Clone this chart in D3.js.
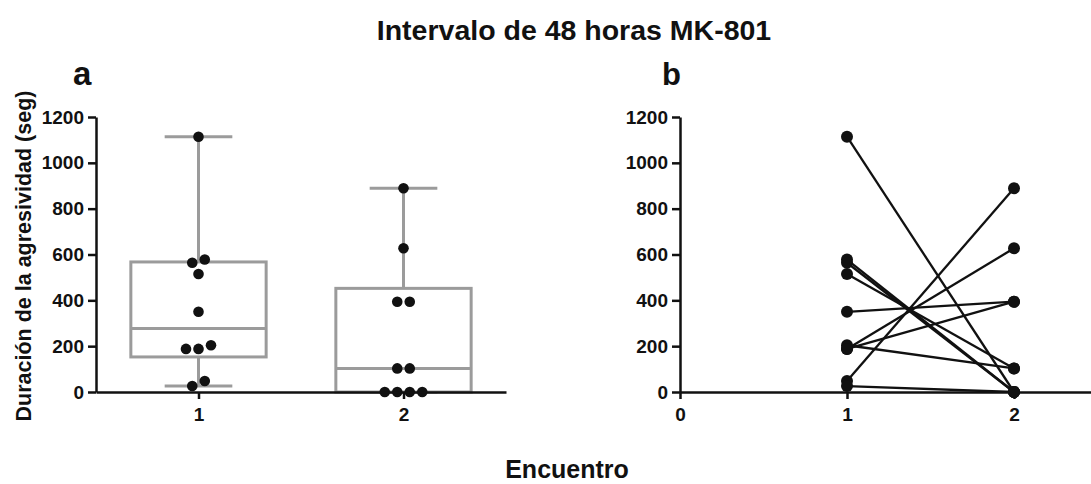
<!DOCTYPE html>
<html>
<head>
<meta charset="utf-8">
<script src="https://cdn.jsdelivr.net/npm/d3@7"></script>
<style>
  html, body { margin: 0; padding: 0; background: #fff; }
  svg { display: block; }
  text { font-family: "Liberation Sans", Arial, sans-serif; font-weight: bold; fill: #111; }
</style>
</head>
<body>
<svg id="chart" width="1091" height="484"></svg>
<script>
// Aggression duration (s) per animal, first and second encounter (paired by index)
const encounters = [1, 2];
const encounter1 = [1114, 578, 564, 515, 350, 204, 188, 188, 48, 26];
const encounter2 = [0, 0, 0, 103, 394, 103, 627, 394, 889, 0];
const yTicks = [0, 200, 400, 600, 800, 1000, 1200];
const title = "Intervalo de 48 horas MK-801";
const yLabel = "Duración de la agresividad (seg)";
const xLabel = "Encuentro";
const panelLabels = ["a", "b"];

const svg = d3.select("#chart");
const boxGray = "#9b9b9b";

// Quartile with the (n+1)p position rule
function quartile(sorted, p) {
  const n = sorted.length;
  const pos = (n + 1) * p;
  if (pos <= 1) return sorted[0];
  if (pos >= n) return sorted[n - 1];
  const lo = Math.floor(pos);
  const frac = pos - lo;
  return sorted[lo - 1] + frac * (sorted[lo] - sorted[lo - 1]);
}

const y = d3.scaleLinear().domain([0, 1200]).range([392, 117]);

function styleAxis(g) {
  g.selectAll("path.domain").attr("stroke", "#111").attr("stroke-width", 2.5);
  g.selectAll(".tick line").attr("stroke", "#111").attr("stroke-width", 2.5);
  g.selectAll(".tick text").style("font-size", "19px").style("font-weight", "bold")
    .style("font-family", '"Liberation Sans", Arial, sans-serif').attr("fill", "#111");
}

// ---------- Panel a: box plots with individual points ----------
const xa = d3.scaleLinear().domain([0.5, 2.5]).range([96, 506]);
const groups = [encounter1, encounter2];

const gA = svg.append("g");
groups.forEach((vals, i) => {
  const cat = encounters[i];
  const s = vals.slice().sort(d3.ascending);
  const q1 = quartile(s, 0.25), med = quartile(s, 0.5), q3 = quartile(s, 0.75);
  const lo = s[0], hi = s[s.length - 1];
  const cx = xa(cat);
  const halfBox = (xa(1.33) - xa(1));
  const halfCap = (xa(1.165) - xa(1));
  const g = gA.append("g").attr("stroke", boxGray).attr("stroke-width", 3).attr("fill", "none");
  // whiskers
  g.append("line").attr("x1", cx).attr("x2", cx).attr("y1", y(q3)).attr("y2", y(hi));
  g.append("line").attr("x1", cx).attr("x2", cx).attr("y1", y(q1)).attr("y2", y(lo));
  g.append("line").attr("x1", cx - halfCap).attr("x2", cx + halfCap).attr("y1", y(hi)).attr("y2", y(hi));
  g.append("line").attr("x1", cx - halfCap).attr("x2", cx + halfCap).attr("y1", y(lo)).attr("y2", y(lo));
  // box and median
  g.append("rect").attr("x", cx - halfBox).attr("y", y(q3))
    .attr("width", 2 * halfBox).attr("height", y(q1) - y(q3)).attr("fill", "#fff");
  g.append("line").attr("x1", cx - halfBox).attr("x2", cx + halfBox).attr("y1", y(med)).attr("y2", y(med));

  // scatter: points close in value are spread sideways in rows (lowest on the left)
  const rows = [];
  s.slice().reverse().forEach(v => {
    const last = rows[rows.length - 1];
    if (last && Math.abs(y(last[0]) - y(v)) < 7) last.push(v); else rows.push([v]);
  });
  const pts = [];
  rows.forEach(row => {
    row.slice().reverse().forEach((v, k) => pts.push({ v, dx: (k - (row.length - 1) / 2) * 12.5 }));
  });
  gA.append("g").selectAll("circle").data(pts).join("circle")
    .attr("cx", d => cx + d.dx).attr("cy", d => y(d.v)).attr("r", 5.3).attr("fill", "#111");
});

const axAy = gA.append("g").attr("transform", `translate(${xa(0.5)},0)`)
  .call(d3.axisLeft(y).tickValues(yTicks).tickSize(8).tickPadding(4).tickSizeOuter(0).tickFormat(d3.format("d")));
styleAxis(axAy);
const axAx = gA.append("g").attr("transform", `translate(0,${y(0)})`)
  .call(d3.axisBottom(xa).tickValues(encounters).tickSize(7).tickPadding(9).tickSizeOuter(0).tickFormat(d3.format("d")));
styleAxis(axAx);

// ---------- Panel b: paired lines between encounters ----------
const xb = d3.scaleLinear().domain([0, 2.5]).range([680, 1097.5]);
const gB = svg.append("g");
const pairs = encounter1.map((v, i) => [v, encounter2[i]]);
gB.append("g").selectAll("line").data(pairs).join("line")
  .attr("x1", xb(1)).attr("x2", xb(2))
  .attr("y1", d => y(d[0])).attr("y2", d => y(d[1]))
  .attr("stroke", "#111").attr("stroke-width", 2.3);

const axBy = gB.append("g").attr("transform", `translate(${xb(0)},0)`)
  .call(d3.axisLeft(y).tickValues(yTicks).tickSize(8).tickPadding(4).tickSizeOuter(0).tickFormat(d3.format("d")));
styleAxis(axBy);
const axBx = gB.append("g").attr("transform", `translate(0,${y(0)})`)
  .call(d3.axisBottom(xb).tickValues([0, 1, 2]).tickSize(7).tickPadding(9).tickSizeOuter(0).tickFormat(d3.format("d")));
styleAxis(axBx);

const dotsB = [];
pairs.forEach(p => { dotsB.push([1, p[0]]); dotsB.push([2, p[1]]); });
gB.append("g").selectAll("circle").data(dotsB).join("circle")
  .attr("cx", d => xb(d[0])).attr("cy", d => y(d[1])).attr("r", 6).attr("fill", "#111");

// ---------- Text ----------
svg.append("text").attr("x", 574).attr("y", 40).attr("text-anchor", "middle")
  .style("font-size", "28.5px").text(title);
svg.append("text").attr("x", 73).attr("y", 85).style("font-size", "33px").text(panelLabels[0]);
svg.append("text").attr("x", 662).attr("y", 85).style("font-size", "31px").text(panelLabels[1]);
svg.append("text").attr("transform", "translate(31,256) rotate(-90)").attr("text-anchor", "middle")
  .style("font-size", "21.5px").text(yLabel);
svg.append("text").attr("x", 567).attr("y", 478).attr("text-anchor", "middle")
  .style("font-size", "25px").text(xLabel);
</script>
</body>
</html>
